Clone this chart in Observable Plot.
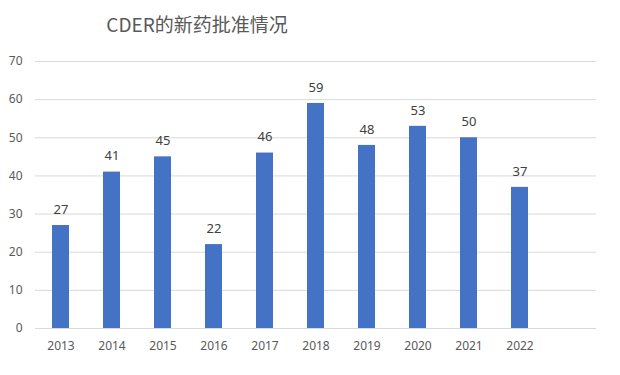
<!DOCTYPE html>
<html>
<head>
<meta charset="utf-8">
<script src="https://cdn.jsdelivr.net/npm/d3@7"></script>
<script src="https://cdn.jsdelivr.net/npm/@observablehq/plot@0.6"></script>
<style>
  html, body { margin: 0; padding: 0; background: #fff; }
  #wrap { position: relative; width: 620px; height: 375px; overflow: hidden; }
  #title { position: absolute; left: 0; width: 394px; top: 9px; text-align: center;
           font-family: "Noto Sans CJK SC", "Noto Sans", sans-serif; font-size: 19px; color: #595959; line-height: 30px; }
  #chart { position: absolute; left: 0; top: 0; }
</style>
</head>
<body>
<div id="wrap">
  <div id="chart"></div>
  <div id="title">CDER的新药批准情况</div>
</div>
<script>
const years = ["2013","2014","2015","2016","2017","2018","2019","2020","2021","2022"];
const approvals = [27, 41, 45, 22, 46, 59, 48, 53, 50, 37];
const yTicks = [0, 10, 20, 30, 40, 50, 60, 70];
const emptySlot = " ";

const data = years.map((y, i) => ({year: y, value: approvals[i]}));

const chart = Plot.plot({
  width: 620,
  height: 375,
  marginLeft: 35,
  marginRight: 24,
  marginTop: 61,
  marginBottom: 47,
  style: {fontFamily: "'Noto Sans', sans-serif", fontSize: "12px", color: "#595959", background: "transparent"},
  x: {domain: [...years, emptySlot], paddingInner: 0.67, paddingOuter: 0.335, label: null},
  y: {domain: [0, 70], label: null},
  marks: [
    Plot.gridY(yTicks, {stroke: "#d9d9d9", strokeOpacity: 1}),
    Plot.axisY(yTicks, {tickSize: 0, tickPadding: 13, fill: "#595959", fontSize: 12, label: null}),
    Plot.axisX(years, {tickSize: 0, tickPadding: 13, fill: "#595959", fontSize: 12, label: null}),
    Plot.barY(data, {x: "year", y: "value", fill: "#4472C4"}),
    Plot.ruleY([0], {stroke: "#d9d9d9"}),
    Plot.text(data, {x: "year", y: "value", text: d => String(d.value), dy: -16, fill: "#404040", fontSize: 13})
  ]
});
document.getElementById("chart").appendChild(chart);
</script>
</body>
</html>
